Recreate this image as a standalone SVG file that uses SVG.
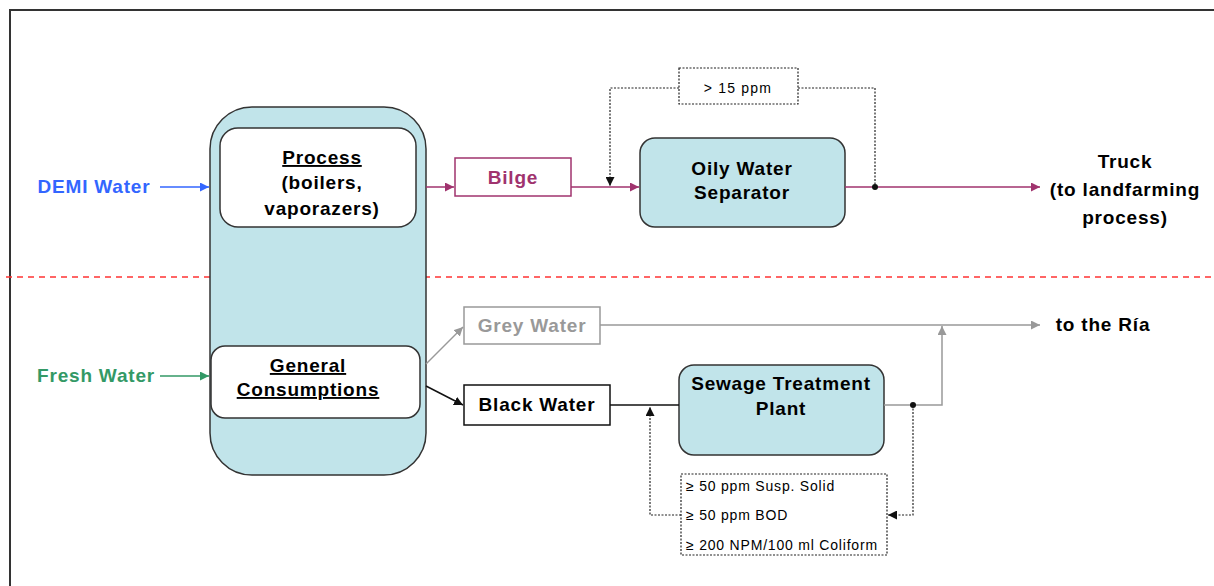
<svg xmlns="http://www.w3.org/2000/svg" width="1214" height="586" viewBox="0 0 1214 586">
<defs>
<style>
.t{font-family:"Liberation Sans",Arial,sans-serif;font-weight:bold;font-size:19px;letter-spacing:0.8px;text-anchor:middle}
.s{font-family:"Liberation Sans",Arial,sans-serif;font-size:14px;letter-spacing:0.8px}
.blue{fill:#c1e4ea;stroke:#333;stroke-width:1.5}
.wbox{fill:#fff;stroke:#333;stroke-width:1.5}
.dot{fill:none;stroke:#222;stroke-width:1.2;stroke-dasharray:2 1.5}
</style>
<marker id="am" viewBox="0 0 10 10" refX="10" refY="5" markerWidth="9" markerHeight="9" markerUnits="userSpaceOnUse" orient="auto"><path d="M0,0L10,5L0,10z" fill="#a0336e"/></marker>
<marker id="ab" viewBox="0 0 10 10" refX="10" refY="5" markerWidth="9" markerHeight="9" markerUnits="userSpaceOnUse" orient="auto"><path d="M0,0L10,5L0,10z" fill="#3366ff"/></marker>
<marker id="ag" viewBox="0 0 10 10" refX="10" refY="5" markerWidth="9" markerHeight="9" markerUnits="userSpaceOnUse" orient="auto"><path d="M0,0L10,5L0,10z" fill="#339966"/></marker>
<marker id="agr" viewBox="0 0 10 10" refX="10" refY="5" markerWidth="9" markerHeight="9" markerUnits="userSpaceOnUse" orient="auto"><path d="M0,0L10,5L0,10z" fill="#999"/></marker>
<marker id="ak" viewBox="0 0 10 10" refX="10" refY="5" markerWidth="9" markerHeight="9" markerUnits="userSpaceOnUse" orient="auto"><path d="M0,0L10,5L0,10z" fill="#111"/></marker>
</defs>
<rect width="1214" height="586" fill="#fff"/>
<path d="M10,586V10H1214" fill="none" stroke="#333" stroke-width="2"/>
<line x1="6" y1="277" x2="1214" y2="277" stroke="#ff3333" stroke-width="1.5" stroke-dasharray="6 5"/>

<g id="plant">
<rect class="blue" x="210" y="107" width="216" height="368" rx="42"/>
</g>
<g id="process">
<rect class="wbox" x="220" y="128" width="196" height="99" rx="18"/>
<text class="t" x="322" y="164" text-decoration="underline">Process</text>
<text class="t" x="322" y="189">(boilers,</text>
<text class="t" x="322" y="215">vaporazers)</text>
</g>
<g id="general">
<rect class="wbox" x="211" y="346" width="209" height="72" rx="14"/>
<text class="t" x="308" y="372" text-decoration="underline">General</text>
<text class="t" x="308" y="396" text-decoration="underline">Consumptions</text>
</g>
<g id="demi"><text class="t" x="94" y="193" fill="#3366ff">DEMI Water</text></g>
<g id="fresh"><text class="t" x="96" y="382" fill="#339966">Fresh Water</text></g>
<g id="bilge">
<rect x="455" y="158" width="116" height="38" fill="#fff" stroke="#a0336e" stroke-width="1.5"/>
<text class="t" x="513" y="184" fill="#a0336e">Bilge</text>
</g>
<g id="ows">
<rect class="blue" x="640" y="138" width="205" height="89" rx="15"/>
<text class="t" x="742" y="175">Oily Water</text>
<text class="t" x="742" y="199">Separator</text>
</g>
<g id="ppm">
<rect class="dot" x="679" y="68" width="119" height="36"/>
<text class="s" x="738" y="93" text-anchor="middle" style="letter-spacing:1.2px">&gt; 15 ppm</text>
</g>
<g id="truck">
<text class="t" x="1125" y="168">Truck</text>
<text class="t" x="1125" y="196">(to landfarming</text>
<text class="t" x="1125" y="224">process)</text>
</g>
<g id="grey">
<rect x="464" y="307" width="136" height="37" fill="#fff" stroke="#999" stroke-width="1.5"/>
<text class="t" x="532" y="332" fill="#999">Grey Water</text>
</g>
<g id="black">
<rect x="464" y="385" width="146" height="40" fill="#fff" stroke="#111" stroke-width="1.5"/>
<text class="t" x="537" y="411">Black Water</text>
</g>
<g id="stp">
<rect class="blue" x="679" y="365" width="205" height="90" rx="15"/>
<text class="t" x="781" y="390">Sewage Treatment</text>
<text class="t" x="781" y="415">Plant</text>
</g>
<g id="ria"><text class="t" x="1103" y="331">to the Ría</text></g>
<g id="criteria">
<rect class="dot" x="681" y="474" width="206" height="81"/>
<text class="s" x="686" y="491">≥ 50 ppm Susp. Solid</text>
<text class="s" x="686" y="520">≥ 50 ppm BOD</text>
<text class="s" x="686" y="550">≥ 200 NPM/100 ml Coliform</text>
</g>

<g id="connectors" fill="none">
<line x1="160" y1="187" x2="209" y2="187" stroke="#3366ff" stroke-width="1.5" marker-end="url(#ab)"/>
<line x1="160" y1="376" x2="209" y2="376" stroke="#339966" stroke-width="1.5" marker-end="url(#ag)"/>
<line x1="426" y1="187" x2="454" y2="187" stroke="#a0336e" stroke-width="1.5" marker-end="url(#am)"/>
<line x1="571" y1="187" x2="639" y2="187" stroke="#a0336e" stroke-width="1.5" marker-end="url(#am)"/>
<line x1="845" y1="187" x2="1040" y2="187" stroke="#a0336e" stroke-width="1.5" marker-end="url(#am)"/>
<path class="dot" d="M679,88H610V186" marker-end="url(#ak)"/>
<path class="dot" d="M798,88H875V187"/>
<circle cx="875" cy="187" r="3" fill="#111"/>
<line x1="426" y1="364" x2="463" y2="327" stroke="#999" stroke-width="1.5" marker-end="url(#agr)"/>
<line x1="600" y1="325" x2="1040" y2="325" stroke="#999" stroke-width="1.5" marker-end="url(#agr)"/>
<path d="M884,405H942V326" stroke="#999" stroke-width="1.5" marker-end="url(#agr)"/>
<line x1="426" y1="386" x2="463" y2="405" stroke="#111" stroke-width="1.5" marker-end="url(#ak)"/>
<line x1="610" y1="405" x2="679" y2="405" stroke="#111" stroke-width="1.5"/>
<path class="dot" d="M681,515H650V407" marker-end="url(#ak)"/>
<path class="dot" d="M913,405V515H888" marker-end="url(#ak)"/>
<circle cx="913" cy="405" r="3" fill="#111"/>
</g>
</svg>
